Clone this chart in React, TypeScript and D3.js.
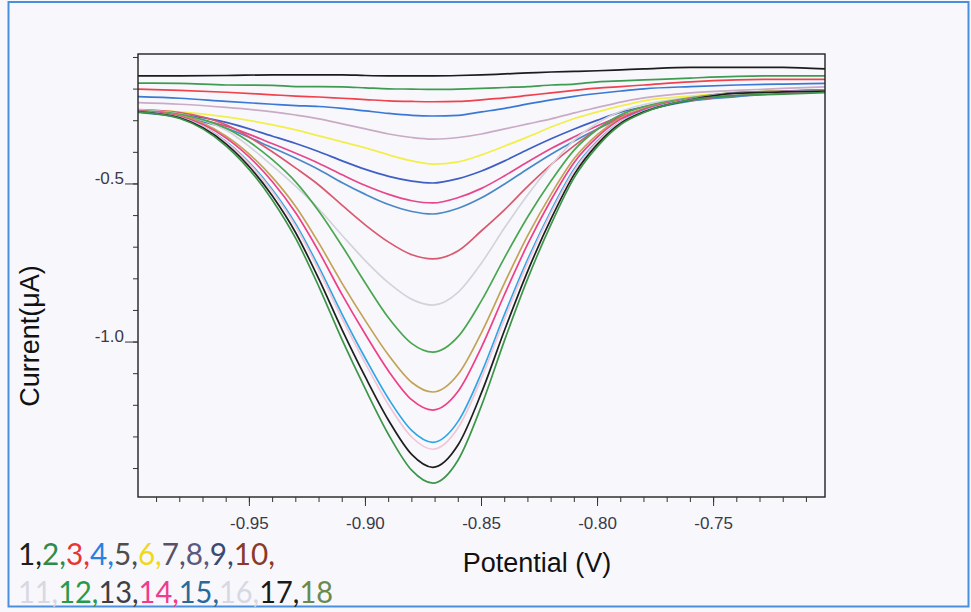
import React from "react";
import * as d3 from "d3";

const potentials = [-0.998, -0.98, -0.96, -0.94, -0.93, -0.92, -0.91, -0.9, -0.89, -0.88, -0.871, -0.86, -0.85, -0.84, -0.83, -0.82, -0.81, -0.8, -0.79, -0.78, -0.76, -0.74, -0.72, -0.702];

const c1 = [-0.158, -0.158, -0.157, -0.155, -0.155, -0.155, -0.155, -0.157, -0.158, -0.158, -0.158, -0.157, -0.155, -0.152, -0.149, -0.146, -0.144, -0.142, -0.139, -0.136, -0.131, -0.131, -0.131, -0.136];
const c2 = [-0.181, -0.182, -0.187, -0.188, -0.192, -0.192, -0.193, -0.196, -0.199, -0.2, -0.201, -0.2, -0.198, -0.195, -0.192, -0.187, -0.184, -0.177, -0.174, -0.171, -0.165, -0.16, -0.158, -0.158];
const c3 = [-0.2, -0.204, -0.21, -0.218, -0.222, -0.225, -0.229, -0.233, -0.237, -0.239, -0.24, -0.239, -0.234, -0.228, -0.22, -0.212, -0.204, -0.197, -0.192, -0.187, -0.177, -0.171, -0.169, -0.169];
const c4 = [-0.224, -0.229, -0.239, -0.248, -0.252, -0.255, -0.261, -0.269, -0.277, -0.283, -0.285, -0.283, -0.272, -0.261, -0.247, -0.234, -0.223, -0.214, -0.206, -0.199, -0.192, -0.187, -0.184, -0.182];
const c5 = [-0.243, -0.248, -0.258, -0.272, -0.282, -0.294, -0.31, -0.326, -0.342, -0.353, -0.358, -0.353, -0.342, -0.326, -0.31, -0.294, -0.275, -0.258, -0.241, -0.228, -0.212, -0.204, -0.198, -0.193];
const c6 = [-0.266, -0.272, -0.288, -0.313, -0.329, -0.348, -0.367, -0.386, -0.408, -0.427, -0.437, -0.43, -0.408, -0.38, -0.351, -0.32, -0.293, -0.272, -0.253, -0.237, -0.222, -0.212, -0.206, -0.203];
const c7 = [-0.27, -0.28, -0.305, -0.349, -0.372, -0.398, -0.427, -0.454, -0.476, -0.491, -0.497, -0.483, -0.459, -0.427, -0.391, -0.357, -0.326, -0.298, -0.273, -0.256, -0.232, -0.221, -0.212, -0.207];
const c8 = [-0.272, -0.285, -0.317, -0.373, -0.403, -0.435, -0.471, -0.505, -0.533, -0.553, -0.56, -0.543, -0.514, -0.474, -0.43, -0.388, -0.351, -0.316, -0.286, -0.265, -0.236, -0.222, -0.213, -0.208];
const c9 = [-0.274, -0.289, -0.324, -0.386, -0.419, -0.455, -0.496, -0.533, -0.565, -0.587, -0.595, -0.577, -0.544, -0.5, -0.452, -0.406, -0.364, -0.326, -0.293, -0.269, -0.238, -0.224, -0.213, -0.208];
const c10 = [-0.265, -0.274, -0.313, -0.399, -0.45, -0.504, -0.568, -0.63, -0.684, -0.724, -0.737, -0.711, -0.648, -0.581, -0.507, -0.439, -0.379, -0.326, -0.289, -0.263, -0.235, -0.219, -0.211, -0.206];
const c11 = [-0.266, -0.279, -0.33, -0.443, -0.508, -0.58, -0.663, -0.743, -0.813, -0.865, -0.883, -0.842, -0.75, -0.638, -0.533, -0.441, -0.361, -0.307, -0.27, -0.249, -0.226, -0.215, -0.209, -0.205];
const c12 = [-0.268, -0.28, -0.324, -0.424, -0.494, -0.587, -0.697, -0.814, -0.924, -1.005, -1.032, -0.982, -0.869, -0.732, -0.603, -0.49, -0.392, -0.327, -0.281, -0.256, -0.228, -0.211, -0.206, -0.202];
const c13 = [-0.269, -0.284, -0.349, -0.48, -0.572, -0.688, -0.815, -0.933, -1.042, -1.128, -1.158, -1.101, -0.97, -0.812, -0.662, -0.532, -0.419, -0.343, -0.291, -0.261, -0.23, -0.211, -0.207, -0.203];
const c14 = [-0.269, -0.286, -0.355, -0.494, -0.592, -0.715, -0.851, -0.976, -1.092, -1.183, -1.215, -1.155, -1.016, -0.848, -0.689, -0.55, -0.431, -0.351, -0.295, -0.264, -0.231, -0.212, -0.207, -0.203];
const c15 = [-0.27, -0.289, -0.366, -0.519, -0.627, -0.764, -0.913, -1.052, -1.18, -1.28, -1.317, -1.25, -1.097, -0.911, -0.737, -0.584, -0.452, -0.364, -0.303, -0.268, -0.232, -0.212, -0.208, -0.204];
const c16 = [-0.271, -0.289, -0.368, -0.525, -0.635, -0.774, -0.927, -1.068, -1.199, -1.301, -1.339, -1.27, -1.114, -0.925, -0.747, -0.591, -0.457, -0.367, -0.304, -0.27, -0.233, -0.213, -0.209, -0.205];
const c17 = [-0.271, -0.291, -0.374, -0.539, -0.655, -0.802, -0.962, -1.111, -1.248, -1.356, -1.396, -1.324, -1.16, -0.961, -0.774, -0.61, -0.469, -0.374, -0.308, -0.272, -0.234, -0.213, -0.209, -0.206];
const c18 = [-0.272, -0.293, -0.38, -0.552, -0.673, -0.826, -0.994, -1.149, -1.293, -1.406, -1.446, -1.372, -1.201, -0.993, -0.798, -0.627, -0.479, -0.381, -0.312, -0.274, -0.234, -0.22, -0.216, -0.211];

const curves = [c1, c2, c3, c4, c5, c6, c7, c8, c9, c10, c11, c12, c13, c14, c15, c16, c17, c18];
const curveColors = ["#1c1c1c", "#3f9a52", "#f0424c", "#3a78d6", "#c9abc6", "#f2ee4a", "#3f5fc4", "#e5478a", "#4a88c8", "#d9596f", "#d3d3dc", "#4aa650", "#c2a356", "#ef3f87", "#2ea6e6", "#f2c6d6", "#1e1e1e", "#3c9648"];

const legendLine1 = ["1", "2", "3", "4", "5", "6", "7", "8", "9", "10"];
const legendColors1 = ["#1e1e1e", "#2e8b4a", "#e83434", "#2a80e0", "#4e4e4e", "#f0d820", "#5a5068", "#5a5a80", "#3a4a70", "#8a3a2a"];
const legendLine2 = ["11", "12", "13", "14", "15", "16", "17", "18"];
const legendColors2 = ["#d8d8e2", "#2a9a4a", "#404040", "#f03c8c", "#2a6a9a", "#d8d8e2", "#1a1a1a", "#6a8a50"];

const xMajorTicks = [-0.95, -0.9, -0.85, -0.8, -0.75];
const xTickLabels = ["-0.95", "-0.90", "-0.85", "-0.80", "-0.75"];
const xMinorTicks = d3.range(-99, -70).map((i) => i / 100);
const yMajorTicks = [-0.5, -1.0];
const yTickLabels = ["-0.5", "-1.0"];
const yMinorTicks = d3.range(1, 15).map((i) => -i / 10);

const W = 971;
const H = 612;
const L = 138, R = 825, T = 54, B = 497;

export default function App() {
  const x = d3.scaleLinear().domain([-0.998, -0.702]).range([L, R]);
  const y = d3.scaleLinear().domain([-1.49, -0.089]).range([B, T]);
  const line = d3
    .line<number>()
    .x((_, i) => x(potentials[i]))
    .y((d) => y(d))
    .curve(d3.curveMonotoneX);
  const tickFont = "'Liberation Sans', Arial, sans-serif";
  const legendFont = "Lato, 'Open Sans', sans-serif";

  return (
    <svg width={W} height={H} style={{ position: "absolute", left: 0, top: 0, display: "block" }}>
      <rect x={0} y={0} width={W} height={H} fill="#f8f8fc" />
      <rect x={8.5} y={2} width={960} height={604.5} fill="none" stroke="#4a8fdc" strokeWidth={2} />
      <defs>
        <clipPath id="plotclip">
          <rect x={L} y={T} width={R - L} height={B - T} />
        </clipPath>
      </defs>
      <g clipPath="url(#plotclip)">
        {curves.map((c, i) => (
          <path key={i} d={line(c) || ""} fill="none" stroke={curveColors[i]} strokeWidth={1.7} />
        ))}
      </g>
      <rect x={L} y={T} width={R - L} height={B - T} fill="none" stroke="#222" strokeWidth={1.4} />
      {xMinorTicks.map((t, i) => (
        <line key={"xm" + i} x1={x(t)} x2={x(t)} y1={B} y2={B + 5} stroke="#333" strokeWidth={1} />
      ))}
      {xMajorTicks.map((t, i) => (
        <g key={"xM" + i}>
          <line x1={x(t)} x2={x(t)} y1={B} y2={B + 9} stroke="#333" strokeWidth={1} />
          <text x={x(t)} y={529} textAnchor="middle" fontFamily={tickFont} fontSize={17} fill="#3a3a4a">
            {xTickLabels[i]}
          </text>
        </g>
      ))}
      {yMinorTicks.map((t, i) => (
        <line key={"ym" + i} x1={L - 5} x2={L} y1={y(t)} y2={y(t)} stroke="#333" strokeWidth={1} />
      ))}
      {yMajorTicks.map((t, i) => (
        <g key={"yM" + i}>
          <line x1={L - 13} x2={L} y1={y(t)} y2={y(t)} stroke="#333" strokeWidth={1} />
          <text x={L - 14} y={y(t)} textAnchor="end" fontFamily={tickFont} fontSize={17} fill="#3a3a4a">
            {yTickLabels[i]}
          </text>
        </g>
      ))}
      <text
        transform="translate(39,336) rotate(-90)"
        textAnchor="middle"
        fontFamily={tickFont}
        fontSize={27}
        fill="#111"
      >
        Current(μA)
      </text>
      <text x={537} y={572} textAnchor="middle" fontFamily={tickFont} fontSize={27} fill="#111">
        Potential (V)
      </text>
      <text x={18} y={565} fontFamily={legendFont} fontSize={30} textLength={257} lengthAdjust="spacingAndGlyphs">
        {legendLine1.map((s, i) => (
          <tspan key={i} fill={legendColors1[i]}>
            {s + ","}
          </tspan>
        ))}
      </text>
      <text x={18} y={603} fontFamily={legendFont} fontSize={30} textLength={315} lengthAdjust="spacingAndGlyphs">
        {legendLine2.map((s, i) => (
          <tspan key={i} fill={legendColors2[i]}>
            {s + (i < legendLine2.length - 1 ? "," : "")}
          </tspan>
        ))}
      </text>
    </svg>
  );
}
